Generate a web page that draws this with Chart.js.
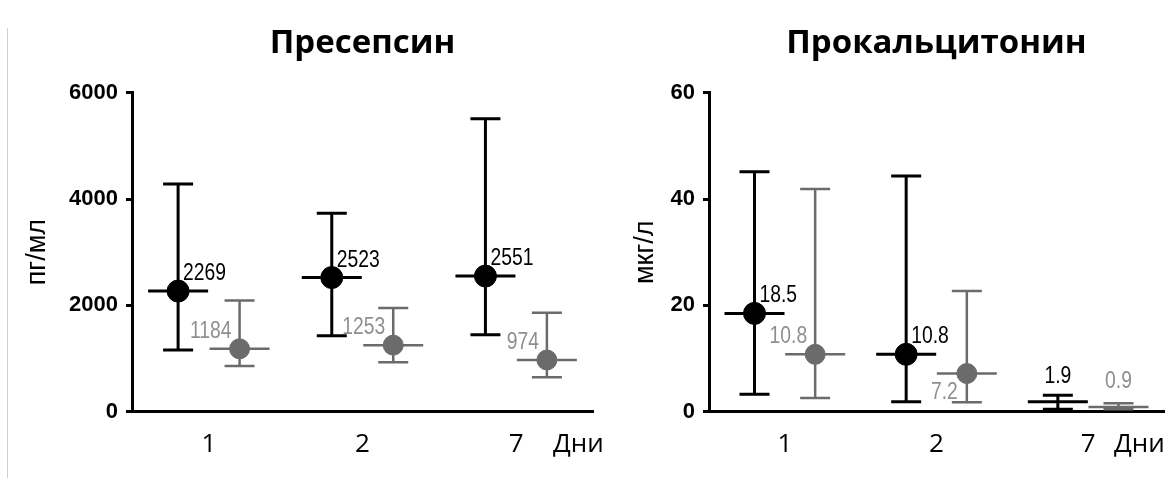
<!DOCTYPE html>
<html>
<head>
<meta charset="utf-8">
<script src="https://cdn.jsdelivr.net/npm/chart.js@4"></script>
<style>
  html, body { margin: 0; padding: 0; background: #fff; }
  #page { position: relative; width: 1176px; height: 478px; overflow: hidden; }
  #edge { position: absolute; left: 7px; top: 28px; height: 450px; border-left: 1.5px solid #cfcfcf; }
  .box { position: absolute; top: 0; height: 478px; }
  #left { left: 0; width: 612px; }
  #right { left: 600px; width: 576px; }
</style>
</head>
<body>
<div id="page">
  <div id="edge"></div>
  <div class="box" id="right"><canvas id="pct"></canvas></div>
  <div class="box" id="left"><canvas id="psep"></canvas></div>
</div>
<script>
var days = ['1', '2', '7'];
var xUnit = 'Дни';

// Пресепсин, пг/мл: median, min, max (black = group A, grey = group B)
var psepTitle = 'Пресепсин';
var psepUnit = 'пг/мл';
var psepTicks = [0, 2000, 4000, 6000];
var psepMedA = [2269, 2523, 2551];
var psepLowA = [1160, 1430, 1450];
var psepHighA = [4280, 3730, 5510];
var psepMedB = [1184, 1253, 974];
var psepLowB = [860, 930, 650];
var psepHighB = [2090, 1950, 1860];

// Прокальцитонин, мкг/л
var pctTitle = 'Прокальцитонин';
var pctUnit = 'мкг/л';
var pctTicks = [0, 20, 40, 60];
var pctMedA = [18.5, 10.8, 1.9];
var pctLowA = [3.3, 1.9, 0.5];
var pctHighA = [45.1, 44.3, 3.1];
var pctMedB = [10.8, 7.2, 0.9];
var pctLowB = [2.6, 1.8, 0.5];
var pctHighB = [41.9, 22.7, 1.6];

var tickFont = { family: 'Open Sans', size: 26 };
var labelFont = '23px "Liberation Sans", Arial, sans-serif';

function pts(med, shift) {
  return med.map(function(v, i) { return { x: i + shift, y: v }; });
}

// whiskers (min..max with caps + median bar) under the dots, value labels on top
var whiskers = {
  id: 'whiskers',
  beforeDatasetsDraw: function(chart) {
    var ctx = chart.ctx, xs = chart.scales.x, ys = chart.scales.y;
    chart.data.datasets.forEach(function(ds) {
      ctx.save();
      ctx.strokeStyle = ds.borderColor;
      ctx.lineWidth = ds.whiskerWidth;
      ctx.lineCap = 'butt';
      ds.data.forEach(function(p, i) {
        var x = xs.getPixelForValue(p.x);
        var y = ys.getPixelForValue(p.y);
        var lo = ys.getPixelForValue(ds.low[i]);
        var hi = ys.getPixelForValue(ds.high[i]);
        ctx.beginPath();
        ctx.moveTo(x, lo); ctx.lineTo(x, hi);
        ctx.moveTo(x - 15, lo); ctx.lineTo(x + 15, lo);
        ctx.moveTo(x - 15, hi); ctx.lineTo(x + 15, hi);
        ctx.moveTo(x - 30, y); ctx.lineTo(x + 30, y);
        ctx.stroke();
      });
      ctx.restore();
    });
  },
  afterDatasetsDraw: function(chart) {
    var ctx = chart.ctx, xs = chart.scales.x, ys = chart.scales.y;
    chart.data.datasets.forEach(function(ds) {
      ds.data.forEach(function(p, i) {
        var x = xs.getPixelForValue(p.x);
        var y = ys.getPixelForValue(p.y);
        var txt = ds.fmt(p.y);
        var pos = ds.labelPos[i];
        var ax = x, ay = y, align = 'center';
        if (pos === 'ne') { align = 'left'; ax = x + 5; ay = y - 11; }
        else if (pos === 'nw') { align = 'right'; ax = x - 8; ay = y - 11; }
        else if (pos === 'sw') { align = 'right'; ax = x - 9; ay = y + 26; }
        else { ay = y - 19; }
        ctx.save();
        ctx.font = labelFont;
        ctx.fillStyle = ds.labelColor;
        ctx.textBaseline = 'alphabetic';
        ctx.textAlign = align;
        ctx.translate(ax, ay);
        ctx.scale(0.84, 1);   // the source uses a condensed face
        ctx.fillText(txt, 0, 0);
        ctx.restore();
      });
    });
    // "Дни" after the last category, on the tick-label line
    var item = xs.getLabelItems()[0];
    ctx.save();
    ctx.font = tickFont.size + 'px "' + tickFont.family + '"';
    ctx.fillStyle = '#000';
    ctx.textAlign = 'left';
    ctx.textBaseline = item.options.textBaseline;
    ctx.fillText(xUnit, xs.right - chart.options.unitShift, item.options.translation[1] + (item.textOffset || 0));
    ctx.restore();
  }
};

function makeChart(id, title, unit, ticks, ymax, sets, axisW, titlePadTop, rightPad, unitShift) {
  return new Chart(document.getElementById(id), {
    type: 'scatter',
    data: { datasets: sets },
    options: {
      responsive: true, maintainAspectRatio: false, animation: false,
      unitShift: unitShift,
      layout: { padding: { left: 0, right: rightPad, top: 0, bottom: 9 } },
      plugins: {
        legend: { display: false },
        tooltip: { enabled: false },
        title: {
          display: true, text: title, color: '#000', fullSize: false,
          font: { family: 'Open Sans', size: 33, weight: 'bold' },
          padding: { top: 24, bottom: 29 }
        }
      },
      scales: {
        x: {
          type: 'linear', min: -0.5, max: 2.5,
          afterBuildTicks: function(s) { s.ticks = days.map(function(d, i) { return { value: i }; }); },
          ticks: { color: '#000', font: tickFont, padding: 9, callback: function(v) { return days[v]; } },
          grid: { display: false },
          border: { display: true, color: '#000', width: 3 }
        },
        y: {
          min: 0, max: ymax,
          afterBuildTicks: function(s) { s.ticks = ticks.map(function(v) { return { value: v }; }); },
          afterFit: function(s) { s.width = axisW; },
          ticks: { color: '#000', padding: 8, font: { family: 'Liberation Sans', size: 22, weight: 'bold' },
                   callback: function(v) { return String(v); } },
          grid: { drawOnChartArea: false, drawTicks: true, tickLength: 6, color: '#000', lineWidth: 3 },
          border: { display: true, color: '#000', width: 3 },
          title: {
            display: true, text: unit, color: '#000',
            font: { family: 'Liberation Sans', size: 27 },
            padding: { top: titlePadTop, bottom: 0 }
          }
        }
      }
    },
    plugins: [whiskers]
  });
}

var intFmt = function(v) { return String(Math.round(v)); };
var decFmt = function(v) { return v.toFixed(1); };

makeChart('psep', psepTitle, psepUnit, psepTicks, 6000, [
  { data: pts(psepMedA, -0.2), low: psepLowA, high: psepHighA, fmt: intFmt,
    borderColor: '#000', backgroundColor: '#000', pointRadius: 11, whiskerWidth: 3,
    labelColor: '#000', labelPos: ['ne', 'ne', 'ne'] },
  { data: pts(psepMedB, 0.2), low: psepLowB, high: psepHighB, fmt: intFmt,
    borderColor: '#6b6b6b', backgroundColor: '#6b6b6b', pointRadius: 10, whiskerWidth: 2.5,
    labelColor: '#8f8f8f', labelPos: ['nw', 'nw', 'nw'] }
], 132, 21, 19, 40);

makeChart('pct', pctTitle, pctUnit, pctTicks, 60, [
  { data: pts(pctMedA, -0.2), low: pctLowA, high: pctHighA, fmt: decFmt,
    borderColor: '#000', backgroundColor: '#000', pointRadius: [11, 11, 0], whiskerWidth: 3,
    labelColor: '#000', labelPos: ['ne', 'ne', 'n'] },
  { data: pts(pctMedB, 0.2), low: pctLowB, high: pctHighB, fmt: decFmt,
    borderColor: '#6b6b6b', backgroundColor: '#6b6b6b', pointRadius: [10, 10, 0], whiskerWidth: 2.5,
    labelColor: '#8f8f8f', labelPos: ['nw', 'sw', 'n'] }
], 109, 29, 4, 50);
</script>
</body>
</html>
